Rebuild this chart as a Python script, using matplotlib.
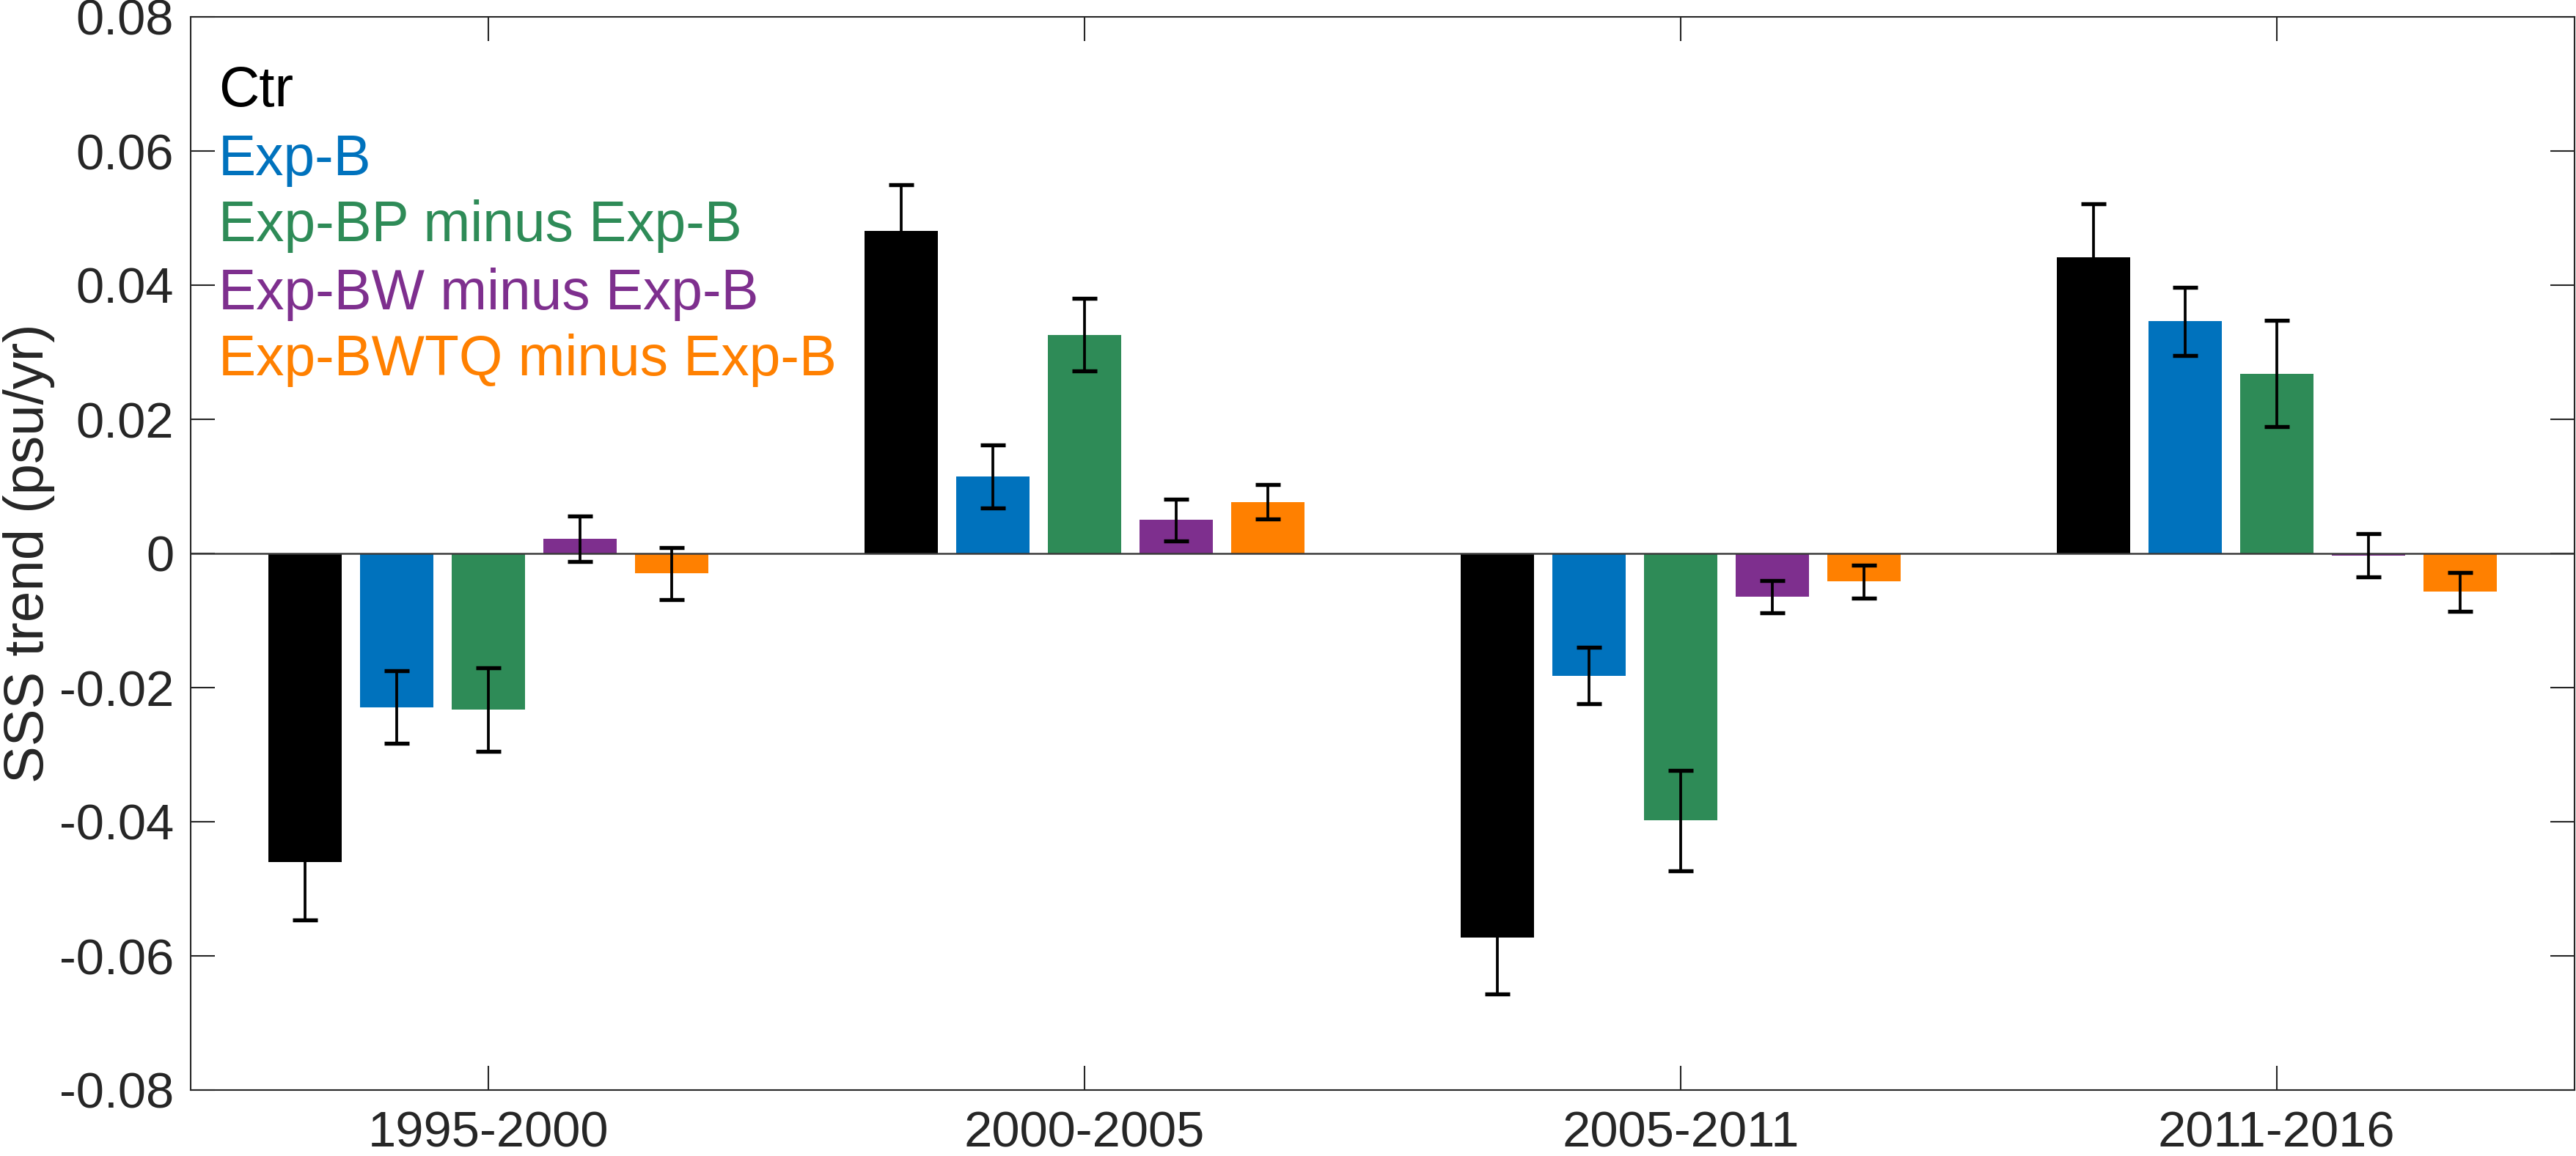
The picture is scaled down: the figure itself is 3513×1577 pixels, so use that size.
import numpy as np
import matplotlib
matplotlib.use("Agg")
import matplotlib.pyplot as plt

plt.rcParams['font.family'] = ['Liberation Sans', 'DejaVu Sans']

# ---- data ----
periods = ["1995-2000", "2000-2005", "2005-2011", "2011-2016"]
series_names = ["Ctr", "Exp-B", "Exp-BP minus Exp-B", "Exp-BW minus Exp-B", "Exp-BWTQ minus Exp-B"]
ctr = [-0.0460, 0.0481, -0.0573, 0.0442]
ctr_err = [0.0086, 0.0069, 0.0084, 0.0079]
expb = [-0.0229, 0.0115, -0.0182, 0.0346]
expb_err = [0.0054, 0.0047, 0.0042, 0.0051]
bp = [-0.0233, 0.0326, -0.0398, 0.0268]
bp_err = [0.0062, 0.0054, 0.0075, 0.0079]
bw = [0.0022, 0.0050, -0.0064, -0.0003]
bw_err = [0.0034, 0.0031, 0.0024, 0.0032]
bwtq = [-0.0030, 0.0077, -0.0042, -0.0057]
bwtq_err = [0.0039, 0.0026, 0.0025, 0.0029]
yticks = [-0.08, -0.06, -0.04, -0.02, 0, 0.02, 0.04, 0.06, 0.08]
ytick_labels = ["-0.08", "-0.06", "-0.04", "-0.02", "0", "0.02", "0.04", "0.06", "0.08"]

values = [ctr, expb, bp, bw, bwtq]
errors = [ctr_err, expb_err, bp_err, bw_err, bwtq_err]
colors = ["#000000", "#0072BD", "#2E8B57", "#7E2F8E", "#FF8000"]

fig = plt.figure(figsize=(3513/300, 1577/300), dpi=300)
ax = fig.add_axes([260/3513, 90/1577, 3251/3513, 1464/1577])

nb = len(values)
x = np.arange(1, len(periods) + 1)
gw = min(0.8, nb / (nb + 1.5))
bwid = 0.8 * gw / nb
for j, (v, e, c) in enumerate(zip(values, errors, colors)):
    xc = x - gw / 2 + (2 * j + 1) * gw / (2 * nb)
    ax.bar(xc, v, width=bwid, color=c, edgecolor='none', linewidth=0, zorder=2)
    ax.errorbar(xc, v, yerr=e, fmt='none', ecolor='black', elinewidth=0.9,
                capsize=4, capthick=1.3, zorder=3)

ax.axhline(0, color='#3a3a3a', linewidth=0.6, zorder=2.5)

ax.set_xlim(0.5, 4.5)
ax.set_ylim(-0.08, 0.08)
ax.set_xticks(x)
ax.set_xticklabels(periods)
ax.set_yticks(yticks)
ax.set_yticklabels(ytick_labels)

ax.tick_params(axis='both', direction='in', length=7.9, width=0.5, colors='#262626',
               labelsize=16.5, top=True, right=True)
ax.tick_params(axis='x', pad=6.5)
ax.tick_params(axis='y', pad=5.5)
for s in ax.spines.values():
    s.set_linewidth(0.5)
    s.set_color('#262626')

fig.text(0.001, 1 - 755/1577, "SSS trend (psu/yr)", rotation=90, ha='left', va='center',
         fontsize=18.3, color='#262626')

leg_y = [0.9167, 0.8525, 0.7910, 0.7275, 0.666]
for name, c, yy in zip(series_names, colors, leg_y):
    ax.text(0.0117, yy, name, color=c, fontsize=18.4, transform=ax.transAxes,
            ha='left', va='baseline', zorder=5)

fig.savefig("out.png", dpi=300)
